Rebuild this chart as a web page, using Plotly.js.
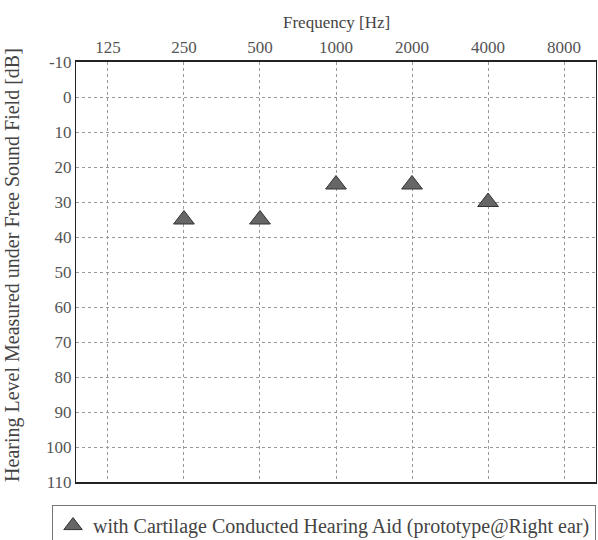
<!DOCTYPE html>
<html><head><meta charset="utf-8">
<script src="https://cdn.plot.ly/plotly-3.0.1.min.js"></script>
<style>body{margin:0;background:#fff}</style>
</head><body>
<div id="chart" style="width:598px;height:540px"></div>
<script>
const frequencies = ['125','250','500','1000','2000','4000','8000'];
const measuredFreq = ['250','500','1000','2000','4000'];
const hearingLevel = [35, 35, 25, 25, 30];
const yTicks = [-10,0,10,20,30,40,50,60,70,80,90,100,110];
const seriesName = 'with Cartilage Conducted Hearing Aid (prototype@Right ear)';
const xTitle = 'Frequency [Hz]';
const yTitle = 'Hearing Level Measured under Free Sound Field [dB]';

const fam = 'Liberation Serif, Times New Roman, serif';
const font = {family: fam, size: 17, color: '#555'};

Plotly.newPlot('chart', [{
  x: measuredFreq, y: hearingLevel, type: 'scatter', mode: 'markers',
  name: seriesName,
  marker: {symbol: 'triangle-up', size: 18, color: '#666', line: {color: '#333', width: 1}}
}], {
  width: 598, height: 540,
  margin: {l: 76, r: 2, t: 62, b: 58, autoexpand: false},
  paper_bgcolor: '#fff', plot_bgcolor: '#fff',
  font: font,
  showlegend: true,
  legend: {xref: 'container', x: 0.087, xanchor: 'left', y: -0.055, yanchor: 'top', bordercolor: '#777', borderwidth: 1,
           font: {family: fam, size: 20, color: '#444'}, bgcolor: '#fff'},
  annotations: [
    {text: xTitle, xref: 'paper', yref: 'paper', x: 0.5, y: 1.093, xanchor: 'center', yanchor: 'middle',
     showarrow: false, font: {family: fam, size: 17, color: '#444'}},
    {text: yTitle, xref: 'paper', yref: 'paper', x: -0.121, y: 0.517, xanchor: 'center', yanchor: 'middle',
     textangle: -90, showarrow: false, font: {family: fam, size: 20, color: '#444'}}
  ],
  xaxis: {
    type: 'category', categoryorder: 'array', categoryarray: frequencies,
    range: [-0.42, 6.42], side: 'top', tickvals: frequencies, ticktext: frequencies,
    tickfont: {family: fam, size: 17, color: '#555'},
    showgrid: true, gridcolor: '#999', griddash: 'dot', gridwidth: 1,
    showline: true, linecolor: '#222', linewidth: 2, mirror: true, ticks: '', zeroline: false
  },
  yaxis: {
    range: [110, -10], tickvals: yTicks, ticktext: yTicks.map(String),
    tickfont: {family: fam, size: 17, color: '#555'},
    showgrid: true, gridcolor: '#999', griddash: 'dot', gridwidth: 1,
    showline: true, linecolor: '#222', linewidth: 1, mirror: true, ticks: '', zeroline: false
  }
}, {displayModeBar: false, staticPlot: true});
</script>
</body></html>
